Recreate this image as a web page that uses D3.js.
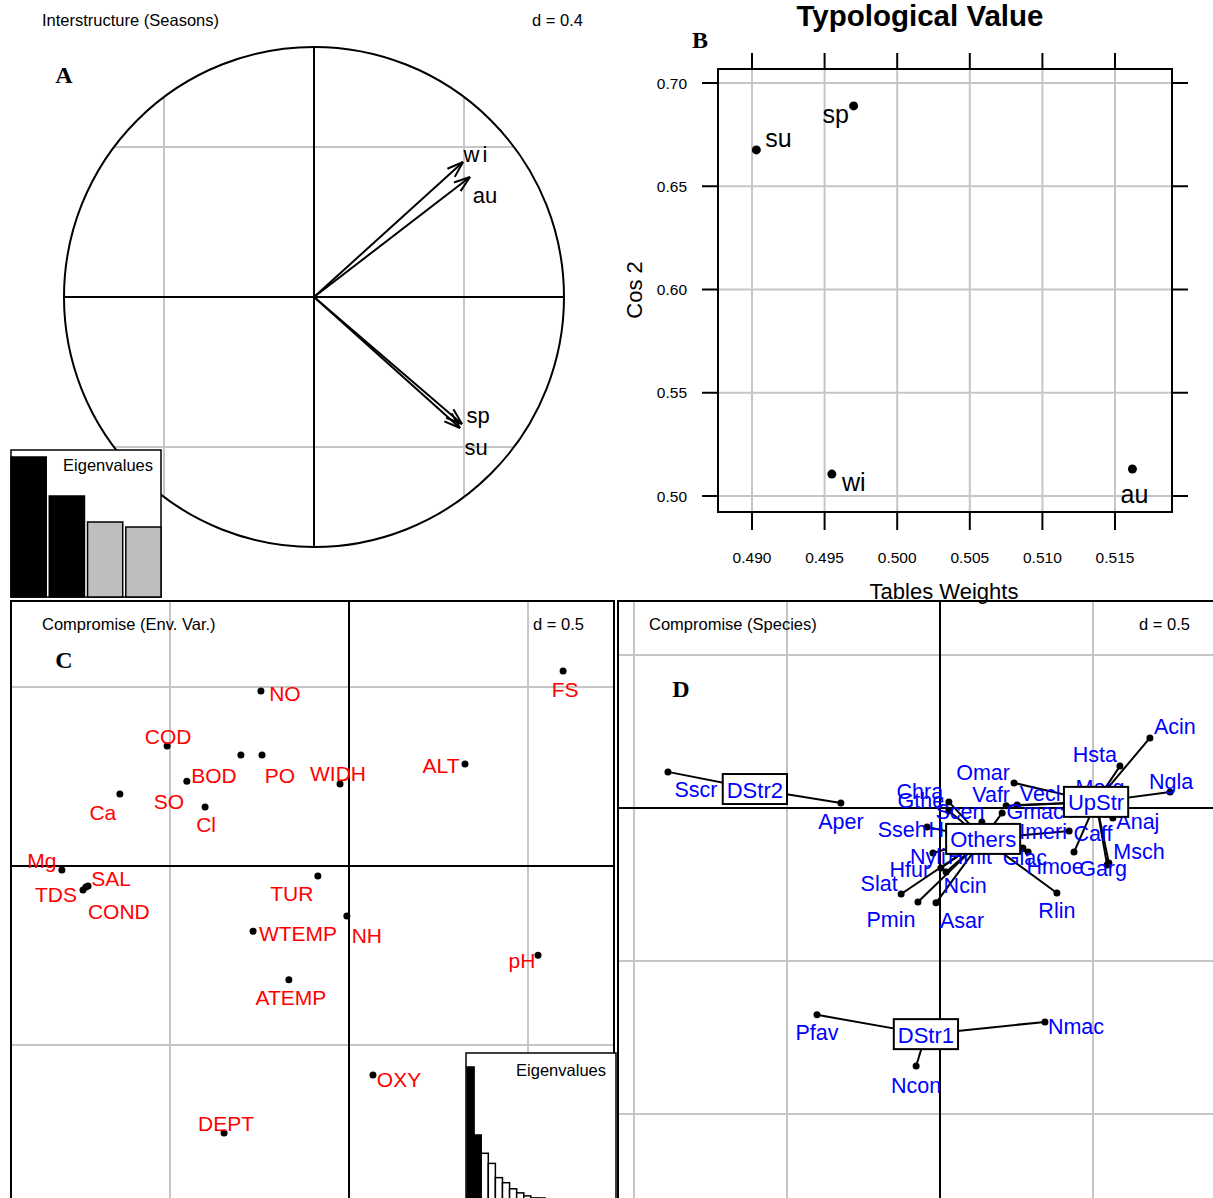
<!DOCTYPE html>
<html><head><meta charset="utf-8">
<script src="https://cdn.jsdelivr.net/npm/d3@7/dist/d3.min.js"></script>
<style>body{margin:0;background:#fff} text{font-family:"Liberation Sans",Arial,sans-serif}</style>
</head><body>
<svg id="c" width="1213" height="1198" xmlns="http://www.w3.org/2000/svg"></svg>
<script>
// ---------------- DATA ----------------
// Panel A : interstructure (seasons)
const seasons = ["wi", "au", "sp", "su"];
const interX = [0.596, 0.624, 0.592, 0.584];
const interY = [0.540, 0.480, -0.508, -0.524];
const eigA = [1.40, 1.01, 0.75, 0.70];
// Panel B : typological value
const tvNames = ["su", "sp", "wi", "au"];
const tvWeights = [0.4903, 0.4970, 0.4955, 0.5162];
const tvCos2 = [0.6676, 0.6889, 0.5106, 0.5131];
const xTicksB = [0.490, 0.495, 0.500, 0.505, 0.510, 0.515];
const yTicksB = [0.50, 0.55, 0.60, 0.65, 0.70];
// Panel C : compromise (environmental variables)
const envNames = ["NO","FS","COD","BOD","PO","SO","Ca","Cl","WIDH","ALT","Mg","SAL","TDS","COND","TUR","WTEMP","NH","pH","ATEMP","OXY","DEPT"];
const envX = [-0.246,0.598,-0.508,-0.302,-0.243,-0.453,-0.640,-0.402,-0.025,0.324,-0.802,-0.729,-0.743,-0.735,-0.087,-0.268,-0.006,0.528,-0.168,0.067,-0.349];
const envY = [0.489,0.545,0.335,0.310,0.310,0.237,0.201,0.165,0.229,0.285,-0.011,-0.056,-0.067,-0.059,-0.028,-0.182,-0.140,-0.249,-0.318,-0.584,-0.746];
const eigC = [1.33,0.66,0.48,0.38,0.24,0.19,0.13,0.09,0.06,0.04,0.04,0.03,0.02,0.02,0.015,0.01,0.01,0.005,0.005,0.003,0.002];
// Panel D : compromise (species) with groups
const spNames = ["Sscr","Aper","Pfav","Nmac","Ncon","Acin","Hsta","Ngla","Morg","Anaj","Caff","Msch","Garg","Omar","Vecl","Gmac","Vafr","Chra","Gthe","Scen","Sseh","Hmer","Nyli","Hmit","Hfur","Slat","Pmin","Asar","Ncin","Glac","Hmoe","Rlin","Imeri"];
const spX = [-0.889,-0.324,-0.402,0.343,-0.078,0.686,0.588,0.752,0.523,0.565,0.438,0.552,0.546,0.242,0.252,0.216,0.203,0.029,0.029,0.137,-0.042,0.065,-0.023,0.114,0.003,-0.127,-0.072,-0.013,0.020,0.271,0.288,0.382,0.422];
const spY = [0.118,0.016,-0.676,-0.699,-0.843,0.229,0.137,0.052,0.033,-0.033,-0.144,-0.180,-0.186,0.082,0.010,0.007,-0.016,0.020,-0.010,-0.046,-0.062,-0.105,-0.147,-0.137,-0.196,-0.281,-0.307,-0.310,-0.209,-0.131,-0.144,-0.278,-0.075];
const spGroup = ["DStr2","DStr2","DStr1","DStr1","DStr1","UpStr","UpStr","UpStr","UpStr","UpStr","UpStr","UpStr","UpStr","UpStr","UpStr","UpStr","Others","Others","Others","Others","Others","Others","Others","Others","Others","Others","Others","Others","Others","Others","Others","Others","Others"];
const groupNames = ["DStr2","UpStr","Others","DStr1"];
const groupX = [-0.605, 0.510, 0.141, -0.046];
const groupY = [0.062, 0.020, -0.101, -0.739];

// ---------------- LAYOUT (label offsets in px) ----------------
const offA = {wi:[14,-8], au:[15,18], sp:[16,-9], su:[16,19]};
const offB = {su:[22,-12], sp:[-18,8], wi:[22,8], au:[2,25]};
const offC = {NO:[24,3],FS:[2,19],COD:[1,-10],BOD:[-27,20],PO:[18,20],SO:[-18,20],Ca:[-17,18],Cl:[1,18],WIDH:[-2,-11],ALT:[-24,2],Mg:[-20,-9],SAL:[23,-8],TDS:[-27,5],COND:[33,24],TUR:[-26,17],WTEMP:[45,2],NH:[20,19],pH:[-16,5],ATEMP:[2,18],OXY:[26,4],DEPT:[2,-10]};
const offD = {Sscr:[28,18],Aper:[0,19],Pfav:[0,18],Nmac:[31,5],Ncon:[0,20],Acin:[25,-11],Hsta:[-25,-11],Ngla:[1,-10],Morg:[0,-10],Anaj:[25,4],Caff:[19,-18],Msch:[30,-11],Garg:[-4,4],Omar:[-31,-10],Vecl:[23,-11],Gmac:[29,6],Vafr:[-11,-18],Chra:[-29,-10],Gthe:[-28,-10],Scen:[-22,-10],Sseh:[-25,3],Hmer:[-5,-10],Nyli:[-5,4],Hmit:[-5,7],Hfur:[-31,2],Slat:[-22,-10],Pmin:[-27,18],Asar:[26,18],Ncin:[19,14],Glac:[2,10],Hmoe:[27,15],Rlin:[0,18],Imeri:[-26,1]};

const GRID = "#c6c6c6";
const svg = d3.select("#c");

function letter(x, y, t) {
  svg.append("text").attr("x", x).attr("y", y).attr("text-anchor", "middle")
    .attr("dominant-baseline", "central")
    .style("font-family", "'Liberation Serif',serif").style("font-weight", "bold")
    .style("font-size", "24px").text(t);
}
function smallTitle(x, y, t, anchor) {
  svg.append("text").attr("x", x).attr("y", y).attr("text-anchor", anchor || "start")
    .attr("dominant-baseline", "central").style("font-size", "16.5px").text(t);
}
function dot(g, x, y, r) {
  g.append("circle").attr("cx", x).attr("cy", y).attr("r", r || 3).attr("fill", "#000");
}

// ================= PANEL A =================
{
  const x = d3.scaleLinear().domain([-1, 1]).range([64, 564]);
  const y = d3.scaleLinear().domain([-1, 1]).range([547, 47]);
  const g = svg.append("g");
  g.append("clipPath").attr("id", "clipA").append("circle")
    .attr("cx", x(0)).attr("cy", y(0)).attr("r", x(1) - x(0));
  const gg = g.append("g").attr("clip-path", "url(#clipA)");
  [-0.6, 0.6].forEach(v => {
    gg.append("line").attr("x1", x(v)).attr("x2", x(v)).attr("y1", y(1)).attr("y2", y(-1)).attr("stroke", GRID).attr("stroke-width", 2);
    gg.append("line").attr("y1", y(v)).attr("y2", y(v)).attr("x1", x(-1)).attr("x2", x(1)).attr("stroke", GRID).attr("stroke-width", 2);
  });
  g.append("circle").attr("cx", x(0)).attr("cy", y(0)).attr("r", x(1) - x(0))
    .attr("fill", "none").attr("stroke", "#000").attr("stroke-width", 2);
  g.append("line").attr("x1", x(-1)).attr("x2", x(1)).attr("y1", y(0)).attr("y2", y(0)).attr("stroke", "#000").attr("stroke-width", 2);
  g.append("line").attr("x1", x(0)).attr("x2", x(0)).attr("y1", y(1)).attr("y2", y(-1)).attr("stroke", "#000").attr("stroke-width", 2);
  seasons.forEach((s, i) => {
    const x0 = x(0), y0 = y(0), x1 = x(interX[i]), y1 = y(interY[i]);
    g.append("line").attr("x1", x0).attr("y1", y0).attr("x2", x1).attr("y2", y1).attr("stroke", "#000").attr("stroke-width", 2);
    const th = Math.atan2(y1 - y0, x1 - x0), L = 17, ph = 0.33;
    [th + ph, th - ph].forEach(a => {
      g.append("line").attr("x1", x1).attr("y1", y1).attr("x2", x1 - L * Math.cos(a)).attr("y2", y1 - L * Math.sin(a))
        .attr("stroke", "#000").attr("stroke-width", 2);
    });
    g.append("text").attr("x", x1 + offA[s][0]).attr("y", y1 + offA[s][1]).attr("text-anchor", "middle")
      .attr("dominant-baseline", "central").style("font-size", "22px")
      .style("letter-spacing", s === "wi" ? "3px" : "0px").text(s);
  });
  // eigenvalue inset
  const bx = 11, by = 450, bw = 150, bh = 147;
  g.append("rect").attr("x", bx).attr("y", by).attr("width", bw).attr("height", bh).attr("fill", "#fff").attr("stroke", "#000").attr("stroke-width", 1.5);
  const xb = d3.scaleBand().domain(d3.range(eigA.length)).range([bx, bx + bw]).paddingInner(0.08);
  const yb = d3.scaleLinear().domain([0, eigA[0]]).range([by + bh, by + 7]);
  eigA.forEach((v, i) => {
    g.append("rect").attr("x", xb(i)).attr("y", yb(v)).attr("width", xb.bandwidth()).attr("height", yb(0) - yb(v))
      .attr("fill", i < 2 ? "#000" : "#bebebe").attr("stroke", "#000").attr("stroke-width", 1.5);
  });
  g.append("text").attr("x", bx + bw - 8).attr("y", by + 15).attr("text-anchor", "end").attr("dominant-baseline", "central")
    .style("font-size", "16.5px").text("Eigenvalues");
  smallTitle(42, 20, "Interstructure (Seasons)");
  smallTitle(583, 20, "d = 0.4", "end");
  letter(64, 75, "A");
}

// ================= PANEL B =================
{
  const x = d3.scaleLinear().domain([0.490, 0.515]).range([752, 1115]);
  const y = d3.scaleLinear().domain([0.50, 0.70]).range([496, 83]);
  const L = 718, R = 1172, T = 69, B = 512;
  const g = svg.append("g");
  xTicksB.forEach(v => g.append("line").attr("x1", x(v)).attr("x2", x(v)).attr("y1", T).attr("y2", B).attr("stroke", GRID).attr("stroke-width", 2));
  yTicksB.forEach(v => g.append("line").attr("y1", y(v)).attr("y2", y(v)).attr("x1", L).attr("x2", R).attr("stroke", GRID).attr("stroke-width", 2));
  g.append("rect").attr("x", L).attr("y", T).attr("width", R - L).attr("height", B - T).attr("fill", "none").attr("stroke", "#000").attr("stroke-width", 2);
  xTicksB.forEach(v => {
    g.append("line").attr("x1", x(v)).attr("x2", x(v)).attr("y1", T - 16).attr("y2", T).attr("stroke", "#000").attr("stroke-width", 2);
    g.append("line").attr("x1", x(v)).attr("x2", x(v)).attr("y1", B).attr("y2", B + 18).attr("stroke", "#000").attr("stroke-width", 2);
    g.append("text").attr("x", x(v)).attr("y", 557).attr("text-anchor", "middle").attr("dominant-baseline", "central")
      .style("font-size", "15.5px").text(d3.format(".3f")(v));
  });
  yTicksB.forEach(v => {
    g.append("line").attr("y1", y(v)).attr("y2", y(v)).attr("x1", L - 16).attr("x2", L).attr("stroke", "#000").attr("stroke-width", 2);
    g.append("line").attr("y1", y(v)).attr("y2", y(v)).attr("x1", R).attr("x2", R + 16).attr("stroke", "#000").attr("stroke-width", 2);
    g.append("text").attr("x", 687).attr("y", y(v)).attr("text-anchor", "end").attr("dominant-baseline", "central")
      .style("font-size", "15.5px").text(d3.format(".2f")(v));
  });
  tvNames.forEach((s, i) => {
    const px = x(tvWeights[i]), py = y(tvCos2[i]);
    dot(g, px, py, 4.5);
    g.append("text").attr("x", px + offB[s][0]).attr("y", py + offB[s][1]).attr("text-anchor", "middle")
      .attr("dominant-baseline", "central").style("font-size", "25px").text(s);
  });
  g.append("text").attr("x", 944).attr("y", 591).attr("text-anchor", "middle").attr("dominant-baseline", "central")
    .style("font-size", "22px").text("Tables Weights");
  g.append("text").attr("transform", "translate(634,290) rotate(-90)").attr("text-anchor", "middle").attr("dominant-baseline", "central")
    .style("font-size", "22px").text("Cos 2");
  g.append("text").attr("x", 920).attr("y", 15).attr("text-anchor", "middle").attr("dominant-baseline", "central")
    .style("font-size", "29.5px").style("font-weight", "bold").text("Typological Value");
  letter(700, 40, "B");
}

// ================= PANEL C =================
{
  const FL = 11, FT = 601, FR = 614, FB = 1198;
  const x = d3.scaleLinear().domain([-1, 1]).range([349 - 358, 349 + 358]);
  const y = d3.scaleLinear().domain([-1, 1]).range([866 + 358, 866 - 358]);
  svg.append("clipPath").attr("id", "clipC").append("rect").attr("x", FL).attr("y", FT).attr("width", FR - FL).attr("height", FB - FT + 20);
  const g = svg.append("g").attr("clip-path", "url(#clipC)");
  [-1, -0.5, 0.5, 1].forEach(v => {
    g.append("line").attr("x1", x(v)).attr("x2", x(v)).attr("y1", FT).attr("y2", FB + 20).attr("stroke", GRID).attr("stroke-width", 2);
    g.append("line").attr("y1", y(v)).attr("y2", y(v)).attr("x1", FL).attr("x2", FR).attr("stroke", GRID).attr("stroke-width", 2);
  });
  g.append("line").attr("x1", x(0)).attr("x2", x(0)).attr("y1", FT).attr("y2", FB + 20).attr("stroke", "#000").attr("stroke-width", 2);
  g.append("line").attr("y1", y(0)).attr("y2", y(0)).attr("x1", FL).attr("x2", FR).attr("stroke", "#000").attr("stroke-width", 2);
  envNames.forEach((s, i) => dot(g, x(envX[i]), y(envY[i]), 3.5));
  envNames.forEach((s, i) => {
    g.append("text").attr("x", x(envX[i]) + offC[s][0]).attr("y", y(envY[i]) + offC[s][1]).attr("text-anchor", "middle")
      .attr("dominant-baseline", "central").attr("fill", "#ff0000").style("font-size", "21px").text(s);
  });
  svg.append("path").attr("d", `M${FL},${FB + 5}V${FT}H${FR}V${FB + 5}`).attr("fill", "none").attr("stroke", "#000").attr("stroke-width", 2);
  smallTitle(42, 624, "Compromise (Env. Var.)");
  smallTitle(584, 624, "d = 0.5", "end");
  letter(64, 660, "C");
  // eigenvalue inset
  const bx = 466, by = 1053, bw = 150, base = 1202;
  svg.append("rect").attr("x", bx).attr("y", by).attr("width", bw).attr("height", 160).attr("fill", "#fff").attr("stroke", "#000").attr("stroke-width", 1.5);
  const xb = d3.scaleBand().domain(d3.range(eigC.length)).range([bx + 1, bx + bw]).paddingInner(0);
  const yb = d3.scaleLinear().domain([0, eigC[0]]).range([base, 1067]);
  eigC.forEach((v, i) => {
    svg.append("rect").attr("x", xb(i)).attr("y", yb(v)).attr("width", xb.bandwidth()).attr("height", base - yb(v) + 10)
      .attr("fill", i < 2 ? "#000" : "#fff").attr("stroke", "#000").attr("stroke-width", 1.5);
  });
  svg.append("text").attr("x", bx + bw - 10).attr("y", by + 17).attr("text-anchor", "end").attr("dominant-baseline", "central")
    .style("font-size", "16.5px").text("Eigenvalues");
}

// ================= PANEL D =================
{
  const FL = 618, FT = 601, FR = 1213, FB = 1198;
  const x = d3.scaleLinear().domain([-1, 1]).range([940 - 306, 940 + 306]);
  const y = d3.scaleLinear().domain([-1, 1]).range([808 + 306, 808 - 306]);
  svg.append("clipPath").attr("id", "clipD").append("rect").attr("x", FL).attr("y", FT).attr("width", FR - FL + 10).attr("height", FB - FT + 20);
  const g = svg.append("g").attr("clip-path", "url(#clipD)");
  [-1, -0.5, 0.5, 1].forEach(v => {
    g.append("line").attr("x1", x(v)).attr("x2", x(v)).attr("y1", FT).attr("y2", FB + 20).attr("stroke", GRID).attr("stroke-width", 2);
    g.append("line").attr("y1", y(v)).attr("y2", y(v)).attr("x1", FL).attr("x2", FR + 10).attr("stroke", GRID).attr("stroke-width", 2);
  });
  g.append("line").attr("x1", x(0)).attr("x2", x(0)).attr("y1", FT).attr("y2", FB + 20).attr("stroke", "#000").attr("stroke-width", 2);
  g.append("line").attr("y1", y(0)).attr("y2", y(0)).attr("x1", FL).attr("x2", FR + 10).attr("stroke", "#000").attr("stroke-width", 2);
  const gIdx = Object.fromEntries(groupNames.map((n, i) => [n, i]));
  spNames.forEach((s, i) => {
    const k = gIdx[spGroup[i]];
    g.append("line").attr("x1", x(groupX[k])).attr("y1", y(groupY[k])).attr("x2", x(spX[i])).attr("y2", y(spY[i]))
      .attr("stroke", "#000").attr("stroke-width", 2);
  });
  spNames.forEach((s, i) => dot(g, x(spX[i]), y(spY[i]), 3.5));
  spNames.forEach((s, i) => {
    g.append("text").attr("x", x(spX[i]) + offD[s][0]).attr("y", y(spY[i]) + offD[s][1]).attr("text-anchor", "middle")
      .attr("dominant-baseline", "central").attr("fill", "#0000ff").style("font-size", "21.5px").text(s);
  });
  groupNames.forEach((n, k) => {
    const cx = x(groupX[k]), cy = y(groupY[k]);
    const t = g.append("text").attr("x", cx).attr("y", cy + 1).attr("text-anchor", "middle").attr("dominant-baseline", "central")
      .attr("fill", "#0000ff").style("font-size", "22px").text(n);
    const w = t.node().getComputedTextLength() + 8;
    g.insert("rect", () => t.node()).attr("x", cx - w / 2).attr("y", cy - 15).attr("width", w).attr("height", 30)
      .attr("fill", "#fff").attr("stroke", "#000").attr("stroke-width", 2);
  });
  svg.append("path").attr("d", `M${FL},${FB + 5}V${FT}H${FR + 5}`).attr("fill", "none").attr("stroke", "#000").attr("stroke-width", 2);
  smallTitle(649, 624, "Compromise (Species)");
  smallTitle(1190, 624, "d = 0.5", "end");
  letter(681, 689, "D");
}
</script>
</body></html>
